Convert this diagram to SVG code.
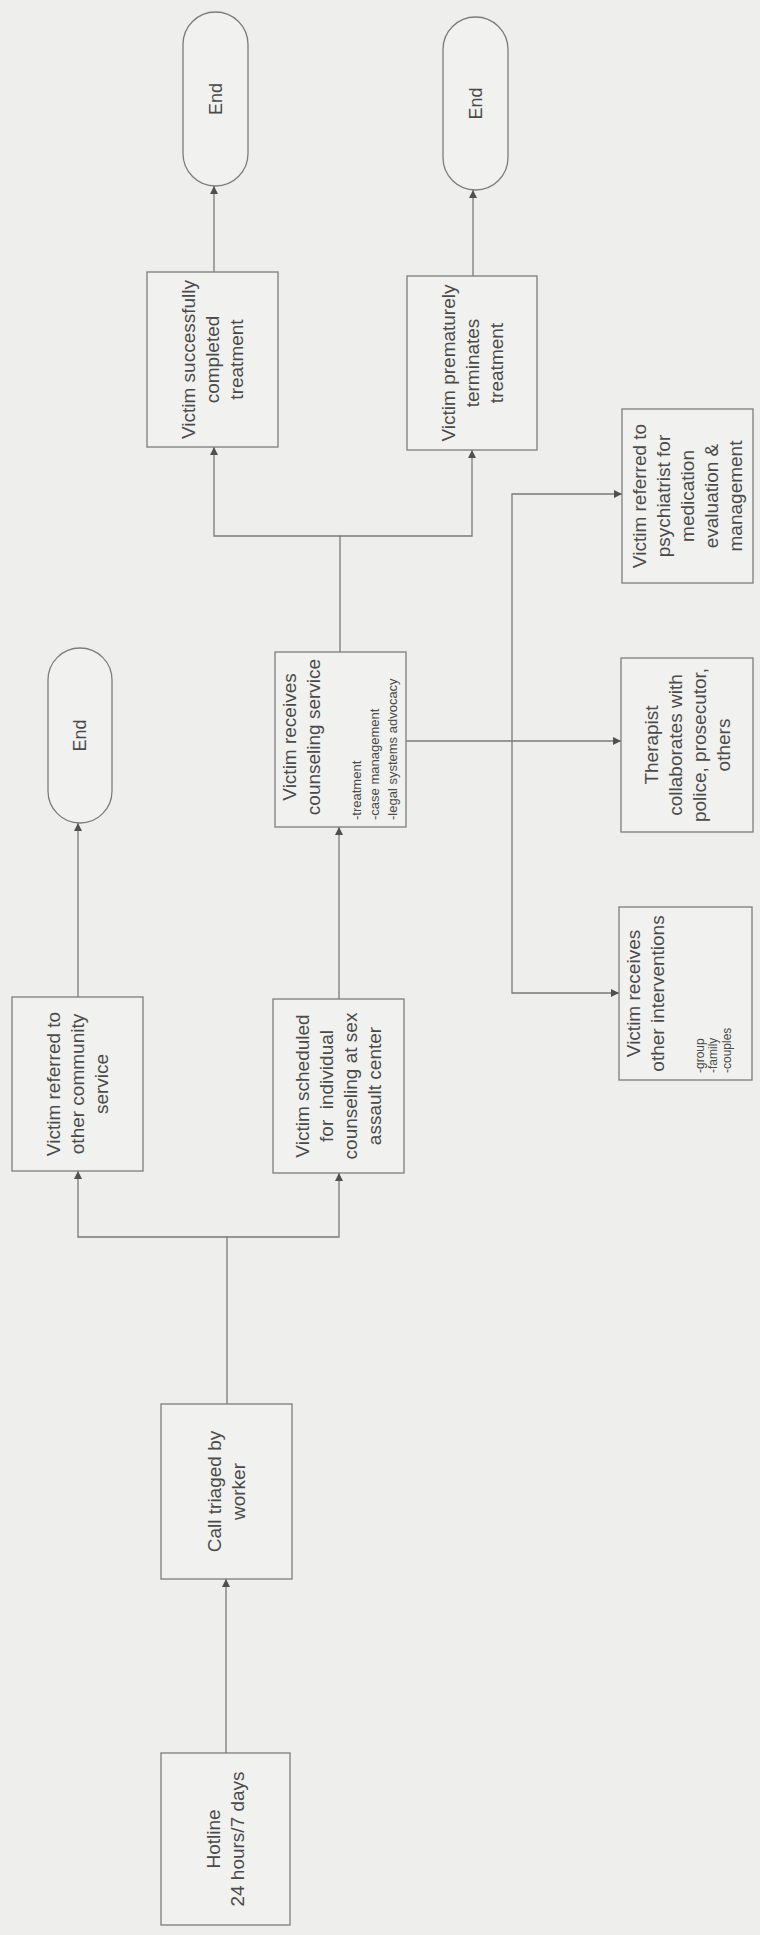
<svg xmlns="http://www.w3.org/2000/svg" width="760" height="1935" viewBox="0 0 760 1935">
<style>
.bg{fill:#eeeeec}
.box{fill:#f1f1ef;stroke:#7d7d7d;stroke-width:1.3}
.t{font-family:"Liberation Sans",Arial,sans-serif;font-size:19px;fill:#4a4a4a;text-anchor:middle}
.e{font-family:"Liberation Sans",Arial,sans-serif;font-size:18px;fill:#4a4a4a;text-anchor:middle}
.s{font-family:"Liberation Sans",Arial,sans-serif;font-size:13px;fill:#4a4a4a;text-anchor:start}
.s2{font-family:"Liberation Sans",Arial,sans-serif;font-size:12px;fill:#4a4a4a;text-anchor:start}
.c{fill:none;stroke:#7a7a7a;stroke-width:1.3}
</style>
<defs>
<marker id="ah" viewBox="0 0 10 10" refX="10" refY="5" markerWidth="8" markerHeight="8" markerUnits="userSpaceOnUse" orient="auto">
<path d="M0,0 L10,5 L0,10 z" fill="#505050"/>
</marker>
</defs>
<rect class="bg" x="0" y="0" width="760" height="1935"/>

<g id="connectors">
<path class="c" d="M226,1753 V1579" marker-end="url(#ah)"/>
<path class="c" d="M227,1404 V1237 H78 V1171" marker-end="url(#ah)"/>
<path class="c" d="M227,1237 H339 V1173" marker-end="url(#ah)"/>
<path class="c" d="M78,997 V823" marker-end="url(#ah)"/>
<path class="c" d="M339,999 V827" marker-end="url(#ah)"/>
<path class="c" d="M340,652 V536 H214 V447" marker-end="url(#ah)"/>
<path class="c" d="M340,536 H472 V450" marker-end="url(#ah)"/>
<path class="c" d="M214,272 V186" marker-end="url(#ah)"/>
<path class="c" d="M473,276 V190" marker-end="url(#ah)"/>
<path class="c" d="M406,741 H621" marker-end="url(#ah)"/>
<path class="c" d="M512,741 V494 H622" marker-end="url(#ah)"/>
<path class="c" d="M512,741 V993 H619" marker-end="url(#ah)"/>
</g>

<g id="end1">
<rect class="box" x="183" y="12" width="65" height="174" rx="32.5" ry="32.5"/>
<text class="e" transform="translate(215.5,99) rotate(-90)"><tspan x="0" y="6.4">End</tspan></text>
</g>
<g id="end2">
<rect class="box" x="443" y="17" width="65" height="173" rx="32.5" ry="32.5"/>
<text class="e" transform="translate(475.5,103.5) rotate(-90)"><tspan x="0" y="6.4">End</tspan></text>
</g>
<g id="end3">
<rect class="box" x="48" y="648" width="64" height="175" rx="32" ry="32"/>
<text class="e" transform="translate(80,735.5) rotate(-90)"><tspan x="0" y="6.4">End</tspan></text>
</g>

<g id="success">
<rect class="box" x="147" y="272" width="131" height="175"/>
<text class="t" transform="translate(212.5,359.5) rotate(-90)"><tspan x="0" y="-17.2">Victim successfully</tspan><tspan x="0" y="6.8">completed</tspan><tspan x="0" y="30.8">treatment</tspan></text>
</g>
<g id="premature">
<rect class="box" x="407" y="276" width="130" height="174"/>
<text class="t" transform="translate(472,363) rotate(-90)"><tspan x="0" y="-17.2">Victim prematurely</tspan><tspan x="0" y="6.8">terminates</tspan><tspan x="0" y="30.8">treatment</tspan></text>
</g>

<g id="receives">
<rect class="box" x="275" y="652" width="131" height="175"/>
<text class="t" transform="translate(340.5,739.5) rotate(-90)"><tspan x="2.5" y="-44.5">Victim receives</tspan><tspan x="2.5" y="-20.5">counseling service</tspan></text>
<text class="s" transform="translate(340.5,739.5) rotate(-90)"><tspan x="-80.5" y="20.5">-treatment</tspan><tspan x="-80.5" y="38.5">-case management</tspan><tspan x="-80.5" y="56.5">-legal systems advocacy</tspan></text>
</g>

<g id="psychiatrist">
<rect class="box" x="622" y="409" width="131" height="174"/>
<text class="t" transform="translate(687.5,496) rotate(-90)"><tspan x="0" y="-41.2">Victim referred to</tspan><tspan x="0" y="-17.2">psychiatrist for</tspan><tspan x="0" y="6.8">medication</tspan><tspan x="0" y="30.8">evaluation &amp;</tspan><tspan x="0" y="54.8">management</tspan></text>
</g>

<g id="therapist">
<rect class="box" x="621" y="658" width="132" height="174"/>
<text class="t" transform="translate(687,745) rotate(-90)"><tspan x="0" y="-29.2">Therapist</tspan><tspan x="0" y="-5.2">collaborates with</tspan><tspan x="0" y="18.8">police, prosecutor,</tspan><tspan x="0" y="42.8">others</tspan></text>
</g>

<g id="interventions">
<rect class="box" x="619" y="907" width="133" height="173"/>
<text class="t" transform="translate(685.5,993.5) rotate(-90)"><tspan x="0" y="-45.5">Victim receives</tspan><tspan x="0" y="-21.5">other interventions</tspan></text>
<text class="s2" transform="translate(685.5,993.5) rotate(-90)"><tspan x="-79.5" y="18">-group</tspan><tspan x="-79.5" y="31.5">-family</tspan><tspan x="-79.5" y="45">-couples</tspan></text>
</g>

<g id="referred">
<rect class="box" x="12" y="997" width="131" height="174"/>
<text class="t" transform="translate(77.5,1084) rotate(-90)"><tspan x="0" y="-17.2">Victim referred to</tspan><tspan x="0" y="6.8">other community</tspan><tspan x="0" y="30.8">service</tspan></text>
</g>

<g id="scheduled">
<rect class="box" x="273" y="999" width="131" height="174"/>
<text class="t" transform="translate(338.5,1086) rotate(-90)"><tspan x="0" y="-29.2">Victim scheduled</tspan><tspan x="0" y="-5.2">for&#160; individual</tspan><tspan x="0" y="18.8">counseling at sex</tspan><tspan x="0" y="42.8">assault center</tspan></text>
</g>

<g id="triaged">
<rect class="box" x="161" y="1404" width="131" height="175"/>
<text class="t" transform="translate(226.5,1491.5) rotate(-90)"><tspan x="0" y="-5.2">Call triaged by</tspan><tspan x="0" y="18.8">worker</tspan></text>
</g>

<g id="hotline">
<rect class="box" x="161" y="1753" width="129" height="172"/>
<text class="t" transform="translate(225.5,1839) rotate(-90)"><tspan x="0" y="-5.2">Hotline</tspan><tspan x="0" y="18.8">24 hours/7 days</tspan></text>
</g>
</svg>
